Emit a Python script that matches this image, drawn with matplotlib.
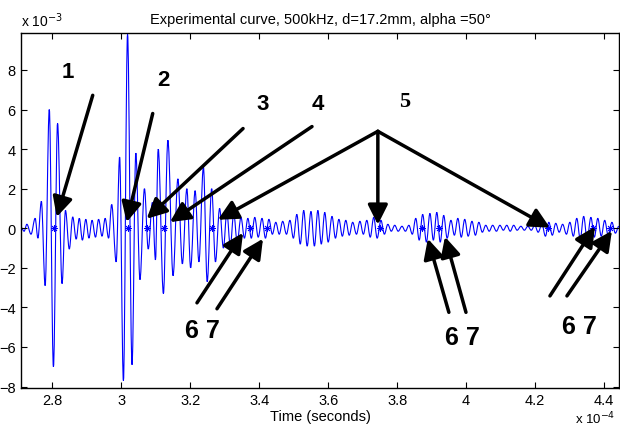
import numpy as np
import matplotlib
matplotlib.use("Agg")
import matplotlib.pyplot as plt
from matplotlib.path import Path
from matplotlib.patches import PathPatch

plt.rcParams['font.family'] = ['Liberation Sans', 'DejaVu Sans']

# successive extrema of the received signal: time in microseconds, amplitude in 1e-3
time_us = [
    270.9, 271.8, 272.6, 273.8, 275.0, 275.8, 276.8, 277.9, 279.1, 280.3,
    281.5, 282.8, 283.8, 284.9, 285.9, 286.9, 287.8, 288.7, 289.7, 290.6,
    291.5, 292.5, 293.4, 294.4, 295.3, 296.3, 297.2, 298.5, 299.5, 300.6,
    301.8, 303.1, 304.2, 305.4, 306.7, 307.8, 309.0, 309.9, 310.7, 312.2,
    313.5, 315.0, 316.4, 317.7, 319.0, 320.1, 321.4, 322.5, 323.8, 324.9,
    326.2, 327.3, 328.5, 329.6,
    330.6, 331.6, 332.6, 333.6, 334.7, 335.7, 336.7, 337.7, 338.7, 339.7,
    340.8, 341.8, 342.8, 343.8, 344.8, 345.8, 346.8, 347.9, 348.9, 349.9,
    350.9, 351.9, 352.9, 353.9, 355.0, 356.0, 357.0, 358.0, 359.0, 360.0,
    361.1, 362.1, 363.1, 364.1, 365.1, 366.1, 367.1, 368.2, 369.2, 370.2,
    371.2, 372.2, 373.2, 374.2, 375.3, 376.3, 377.3, 378.3, 379.3, 380.3,
    381.4, 382.4, 383.4, 384.4, 385.4, 386.4, 387.4, 388.5, 389.5, 390.5,
    391.5, 392.5, 393.5, 394.5, 395.6, 396.6, 397.6, 398.6, 399.6, 400.6,
    401.7, 402.7, 403.7, 404.7, 405.7, 406.7, 407.7, 408.8, 409.8, 410.8,
    411.8, 412.8, 413.8, 414.8, 415.9, 416.9, 417.9, 418.9, 419.9, 420.9,
    422.0, 423.0, 424.0, 425.0, 426.0, 427.0, 428.0, 429.1, 430.1, 431.1,
    432.1, 433.1, 434.1, 435.1, 436.2, 437.2, 438.2, 439.2, 440.2, 441.2,
    442.3, 443.3, 444.3,
]
signal = [
    0.05, -0.15, 0.2, -0.3, 0.5, -0.5, 1.36, -2.9, 6.0, -7.0,
    5.3, -2.8, 0.9, -1.05, 0.57, -0.55, 0.5, -0.6, 0.45, -0.5,
    0.4, -0.45, 0.45, -0.4, 0.5, -0.5, 1.2, -1.7, 3.6, -7.7,
    9.8, -6.9, 3.8, -2.6, 2.0, -1.05, 1.3, -1.6, 4.0, -3.3,
    4.45, -2.4, 2.5, -1.8, 2.0, -2.0, 1.9, -1.7, 3.1, -2.7,
    2.0, -1.7, 1.0, -1.0,
    0.8, -0.9, 0.75, -0.7, 0.55, -0.5, 0.5, -0.5, 0.55, -0.45,
    0.5, -0.5, 0.45, -0.3, 0.3, -0.3, 0.35, -0.3, 0.4, -0.5,
    0.7, -0.8, 0.9, -0.9, 0.85, -0.9, 0.9, -0.8, 0.8, -0.7,
    0.6, -0.5, 0.45, -0.4, 0.4, -0.35, 0.3, -0.3, 0.35, -0.3,
    0.4, -0.45, 0.55, -0.5, 0.4, -0.3, 0.2, -0.15, 0.15, -0.15,
    0.1, -0.15, 0.15, -0.3, 0.5, -0.6, 0.7, -0.7, 0.75, -0.6,
    0.8, -0.7, 0.65, -0.5, 0.4, -0.35, 0.5, -0.45, 0.45, -0.4,
    0.35, -0.35, 0.3, -0.2, 0.15, -0.15, 0.15, -0.15, 0.15, -0.1,
    0.15, -0.15, 0.15, -0.1, 0.1, -0.1, 0.1, -0.1, 0.15, -0.2,
    0.2, -0.4, 0.3, -0.35, 0.25, -0.2, 0.2, -0.3, 0.3, -0.4,
    0.5, -0.55, 0.6, -0.55, 0.55, -0.45, 0.5, -0.4, 0.4, -0.35,
    0.3, -0.25, 0.1,
]

# picked echo arrivals
echo_us = [280.5, 302.0, 307.5, 312.4, 326.2, 337.3, 342.2, 375.0,
           387.1, 392.2, 423.8, 436.8, 441.7]
echo_val = [0.0] * len(echo_us)

# (label, text position, [(tail, tip)]) in axis units (1e-4 s, 1e-3)
labels = [
    ("1", (2.845, 7.9), [((2.917, 6.72), (2.8125, 0.57))]),
    ("2", (3.121, 7.5), [((3.091, 5.80), (3.0155, 0.31))]),
    ("3", (3.411, 6.3), [((3.353, 5.04), (3.0735, 0.48))]),
    ("4", (3.570, 6.3), [((3.553, 5.14), (3.141, 0.31))]),
]


def smooth_path(x, y):
    # cubic segments between extrema, flat at each turning point
    verts = [(x[0], y[0])]
    codes = [Path.MOVETO]
    for i in range(len(x) - 1):
        h = x[i + 1] - x[i]
        verts += [(x[i] + 0.36 * h, y[i]), (x[i + 1] - 0.36 * h, y[i + 1]),
                  (x[i + 1], y[i + 1])]
        codes += [Path.CURVE4] * 3
    return Path(verts, codes)


fig = plt.figure(figsize=(6.2, 4.27), dpi=100)
ax = fig.add_axes([0.0339, 0.0897, 0.9645, 0.8307])

t = np.array(time_us) / 100.0
ax.add_patch(PathPatch(smooth_path(t, signal), facecolor='none',
                       edgecolor='#0000ff', lw=0.8))
ax.plot(np.array(echo_us) / 100.0, echo_val, ls='none', marker=(8, 2, 0),
        ms=5, mew=0.6, color='#0000ff')

arrow_kw = dict(arrowstyle='-|>,head_length=0.6,head_width=0.3',
                color='k', lw=2.5, shrinkA=0, shrinkB=0, mutation_scale=20)

for text, pos, arrows in labels:
    ax.text(pos[0], pos[1], text, fontsize=16, fontweight='bold',
            ha='center', va='center')
    for tail, tip in arrows:
        ax.annotate('', xy=tip, xytext=tail, arrowprops=arrow_kw)

# label 5 with its three arrows
ax.text(3.822, 6.45, "5", fontsize=16, fontweight='bold', family='Liberation Serif',
        ha='center', va='center')
for tip in [(3.280, 0.43), (3.744, 0.18), (4.243, 0.03)]:
    ax.annotate('', xy=tip, xytext=(3.744, 4.9), arrowprops=arrow_kw)

# 6 / 7 pairs
pairs = [
    ((3.234, -5.16), [((3.2194, -3.77), (3.353, -0.23)), ((3.2774, -4.07), (3.4108, -0.53))]),
    ((3.988, -5.5), [((3.950, -4.25), (3.889, -0.53)), ((3.9996, -4.25), (3.9387, -0.43))]),
    ((4.330, -4.95), [((4.2432, -3.42), (4.3737, 0.08)), ((4.2925, -3.42), (4.4229, -0.13))]),
]
for pos, arrows in pairs:
    ax.text(pos[0], pos[1], "6 7", fontsize=18, fontweight='bold',
            ha='center', va='center')
    for tail, tip in arrows:
        ax.annotate('', xy=tip, xytext=tail, arrowprops=arrow_kw)

ax.set_xlim(2.709, 4.4435)
ax.set_ylim(-8.06, 9.87)
ax.set_xticks(np.arange(2.8, 4.41, 0.2))
ax.set_xticklabels(['2.8', '3', '3.2', '3.4', '3.6', '3.8', '4', '4.2', '4.4'])
ax.set_yticks(np.arange(-8, 9, 2))
ax.tick_params(direction='in', top=True, right=True, length=4.5, labelsize=10.5, pad=4)
for s in ax.spines.values():
    s.set_linewidth(1.0)

ax.set_title('Experimental curve, 500kHz, d=17.2mm, alpha =50°', fontsize=10.5, pad=7)
ax.set_xlabel('Time (seconds)', fontsize=10.5, labelpad=1)
ax.text(0.0, 1.012, r'x 10$^{-3}$', transform=ax.transAxes, fontsize=10,
        ha='left', va='bottom')
fig.text(0.928, 0.0, r'x 10$^{-4}$', fontsize=9.5, ha='left', va='bottom')

fig.savefig('out.png', dpi=100)
